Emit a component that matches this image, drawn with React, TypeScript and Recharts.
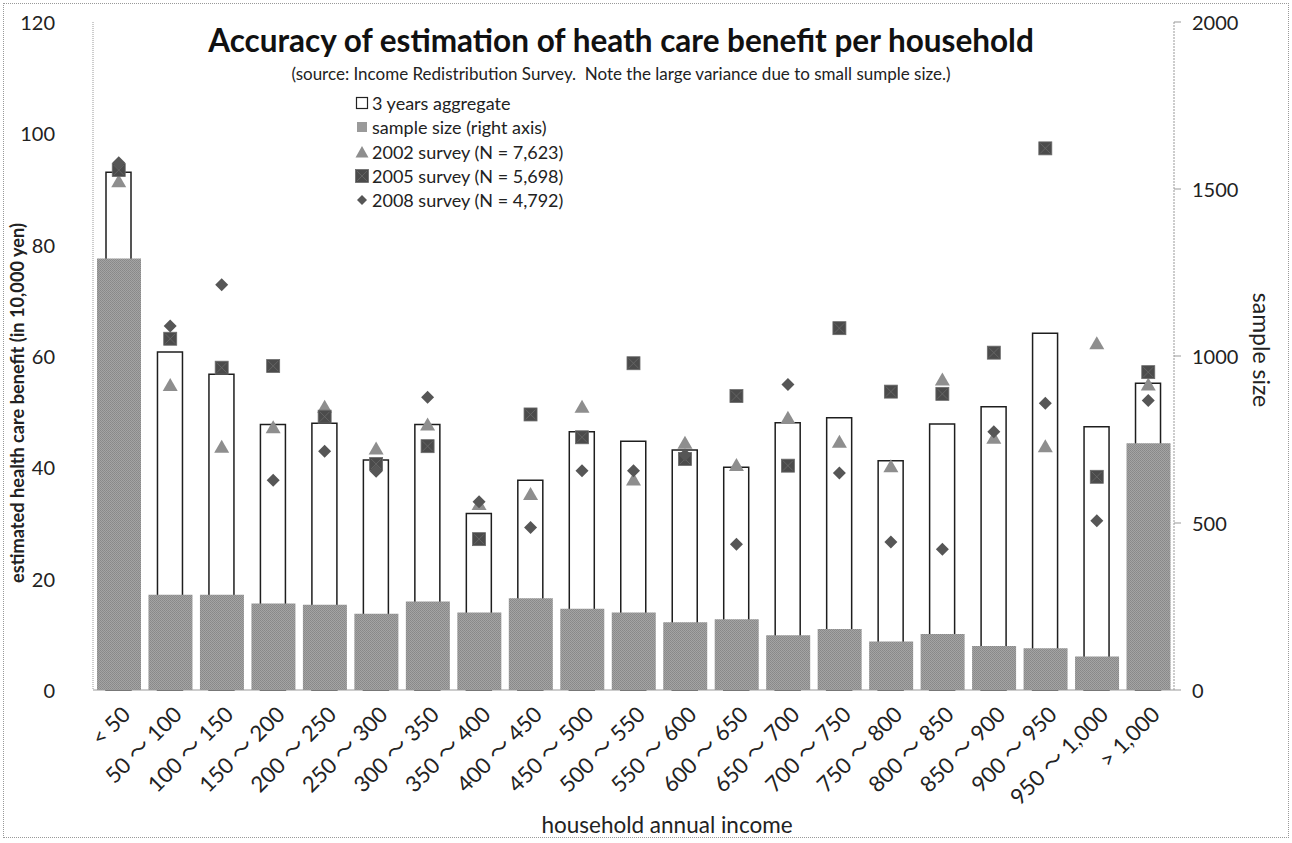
import { ComposedChart, Bar, Scatter, XAxis, YAxis } from 'recharts'

const categories = [
  '< 50', '50 ～ 100', '100 ～ 150', '150 ～ 200', '200 ～ 250', '250 ～ 300', '300 ～ 350',
  '350 ～ 400', '400 ～ 450', '450 ～ 500', '500 ～ 550', '550 ～ 600', '600 ～ 650', '650 ～ 700',
  '700 ～ 750', '750 ～ 800', '800 ～ 850', '850 ～ 900', '900 ～ 950', '950 ～ 1,000', '> 1,000',
]

// estimated benefit, 10,000 yen (left axis)
const aggregate3y = [93.0, 60.7, 56.7, 47.7, 47.9, 41.3, 47.7, 31.7, 37.7, 46.4, 44.7, 43.1, 40.0, 48.0, 48.9, 41.2, 47.8, 50.9, 64.1, 47.3, 55.1]
const survey2002 = [91.4, 54.8, 43.7, 47.2, 50.9, 43.4, 47.7, 33.4, 35.2, 50.9, 37.8, 44.4, 40.4, 48.9, 44.6, 40.2, 55.8, 45.3, 43.8, 62.3, 54.9]
const survey2005 = [93.4, 63.1, 57.9, 58.2, 49.1, 40.6, 43.8, 27.1, 49.5, 45.4, 58.7, 41.5, 52.8, 40.3, 65.0, 53.6, 53.2, 60.6, 97.3, 38.3, 57.1]
const survey2008 = [94.7, 65.4, 72.8, 37.7, 42.9, 39.3, 52.6, 33.8, 29.2, 39.4, 39.4, 42.2, 26.2, 54.9, 39.0, 26.6, 25.3, 46.4, 51.5, 30.4, 52.0]

// sample size (right axis)
const sampleSize = [1292, 285, 285, 259, 255, 228, 265, 232, 275, 243, 232, 203, 212, 164, 183, 145, 168, 132, 125, 100, 739]

const leftTicks = [0, 20, 40, 60, 80, 100, 120]
const rightTicks = [0, 500, 1000, 1500, 2000]

const data = categories.map((cat, i) => ({
  cat,
  agg: aggregate3y[i],
  n: sampleSize[i],
  s2002: survey2002[i],
  s2005: survey2005[i],
  s2008: survey2008[i],
}))

const FONT = "Lato, 'Noto Sans CJK JP', sans-serif"
const TEXT = '#222'

function TriangleDot({ cx, cy }: any) {
  return <polygon points={`${cx},${cy - 7} ${cx + 7.5},${cy + 6} ${cx - 7.5},${cy + 6}`} fill="#8e8e8e" />
}

function SquareDot({ cx, cy }: any) {
  return (
    <g>
      <rect x={cx - 6.5} y={cy - 6.5} width={13} height={13} fill="#4b4b4b" stroke="#6c6c6c" strokeWidth={0.8} />
      <line x1={cx - 5} y1={cy - 5} x2={cx + 5} y2={cy + 5} stroke="#6a6a6a" strokeWidth={0.8} />
      <line x1={cx + 5} y1={cy - 5} x2={cx - 5} y2={cy + 5} stroke="#6a6a6a" strokeWidth={0.8} />
    </g>
  )
}

function DiamondDot({ cx, cy }: any) {
  return <polygon points={`${cx},${cy - 6.5} ${cx + 6.5},${cy} ${cx},${cy + 6.5} ${cx - 6.5},${cy}`} fill="#565656" />
}

function LeftTick({ y, payload }: any) {
  return (
    <text x={55} y={y} textAnchor="end" dominantBaseline="central" fontSize={20} fill={TEXT} fontFamily={FONT}>
      {payload.value}
    </text>
  )
}

function RightTick({ y, payload }: any) {
  return (
    <text x={1192} y={y} textAnchor="start" dominantBaseline="central" fontSize={20} fill={TEXT} fontFamily={FONT}>
      {payload.value}
    </text>
  )
}

function CatTick({ x, payload }: any) {
  const ax = x + 7
  const ay = 710
  return (
    <text x={ax} y={ay} transform={`rotate(-45 ${ax} ${ay})`} textAnchor="end" dominantBaseline="central"
      fontSize={22} fill={TEXT} fontFamily={FONT}>
      {payload.value}
    </text>
  )
}

const legendItems = [
  { label: '3 years aggregate', kind: 'box' },
  { label: 'sample size (right axis)', kind: 'sample' },
  { label: '2002 survey (N = 7,623)', kind: 'tri' },
  { label: '2005 survey (N = 5,698)', kind: 'sq' },
  { label: '2008 survey (N = 4,792)', kind: 'dia' },
]

function LegendMark({ kind }: { kind: string }) {
  return (
    <svg width={14} height={14} style={{ marginRight: 3 }}>
      {kind === 'box' && <rect x={1.5} y={1.5} width={11} height={11} fill="#fff" stroke="#222" strokeWidth={1.2} />}
      {kind === 'sample' && <rect x={2} y={2} width={10} height={10} fill="#9a9a9a" />}
      {kind === 'tri' && <polygon points="7,1 13.5,12.5 0.5,12.5" fill="#8e8e8e" />}
      {kind === 'sq' && <SquareDot cx={7} cy={7} />}
      {kind === 'dia' && <polygon points="7,2 12,7 7,12 2,7" fill="#565656" />}
    </svg>
  )
}

export default function App() {
  return (
    <div style={{ position: 'absolute', left: 0, top: 0, width: 1292, height: 843, background: '#fff', fontFamily: FONT, color: TEXT }}>
      <div style={{ position: 'absolute', left: 3, top: 3, width: 1284, height: 833, border: '1px dotted #999' }} />

      <ComposedChart width={1292} height={843} data={data} margin={{ top: 22, right: 0, bottom: 0, left: 0 }}>
        <defs>
          <pattern id="grain" width={2} height={2} patternUnits="userSpaceOnUse">
            <rect width={2} height={2} fill="#a4a4a4" />
            <rect width={1} height={1} fill="#888" />
            <rect x={1} y={1} width={1} height={1} fill="#8c8c8c" />
          </pattern>
        </defs>
        <XAxis xAxisId="a" dataKey="cat" height={153} interval={0} tickLine={false}
          axisLine={{ stroke: '#999' }} tick={<CatTick />} />
        <XAxis xAxisId="b" dataKey="cat" hide />
        <YAxis yAxisId="left" width={93} domain={[0, 120]} ticks={leftTicks} tickLine={false}
          axisLine={{ stroke: '#999', strokeDasharray: '1 1' }} tick={<LeftTick />} />
        <YAxis yAxisId="right" orientation="right" width={118} domain={[0, 2000]} ticks={rightTicks}
          tickSize={7} tickLine={{ stroke: '#999' }} axisLine={{ stroke: '#999', strokeDasharray: '2 1' }} tick={<RightTick />} />

        <Bar xAxisId="a" yAxisId="left" dataKey="agg" barSize={25} fill="#fff" stroke="#1e1e1e" strokeWidth={1.5} isAnimationActive={false} />
        <Bar xAxisId="b" yAxisId="right" dataKey="n" barSize={44} fill="url(#grain)" isAnimationActive={false} />

        <Scatter xAxisId="a" yAxisId="left" dataKey="s2002" shape={<TriangleDot />} isAnimationActive={false} />
        <Scatter xAxisId="a" yAxisId="left" dataKey="s2005" shape={<SquareDot />} isAnimationActive={false} />
        <Scatter xAxisId="a" yAxisId="left" dataKey="s2008" shape={<DiamondDot />} isAnimationActive={false} />
      </ComposedChart>

      <div style={{ position: 'absolute', left: 120, width: 1002, top: 22, textAlign: 'center', fontSize: 31.5, fontWeight: 700, lineHeight: '36px', color: '#111', whiteSpace: 'nowrap' }}>
        Accuracy of estimation of heath care benefit per household
      </div>
      <div style={{ position: 'absolute', left: 120, width: 1002, top: 64, textAlign: 'center', fontSize: 17, lineHeight: '20px', whiteSpace: 'pre' }}>
        {'(source: Income Redistribution Survey.  Note the large variance due to small sumple size.)'}
      </div>

      <div style={{ position: 'absolute', left: 355, top: 91 }}>
        {legendItems.map((it) => (
          <div key={it.label} style={{ display: 'flex', alignItems: 'center', height: 24.3, fontSize: 18, whiteSpace: 'nowrap' }}>
            <LegendMark kind={it.kind} />
            <span>{it.label}</span>
          </div>
        ))}
      </div>

      <div style={{ position: 'absolute', left: 17, top: 403, transform: 'translate(-50%, -50%) rotate(-90deg)', whiteSpace: 'nowrap', fontSize: 18.2, fontWeight: 700 }}>
        estimated health care benefit (in 10,000 yen)
      </div>
      <div style={{ position: 'absolute', left: 1262, top: 350, transform: 'translate(-50%, -50%) rotate(90deg)', whiteSpace: 'nowrap', fontSize: 23 }}>
        sample size
      </div>
      <div style={{ position: 'absolute', left: 667, top: 824, transform: 'translate(-50%, -50%)', whiteSpace: 'nowrap', fontSize: 22.5 }}>
        household annual income
      </div>
    </div>
  )
}
